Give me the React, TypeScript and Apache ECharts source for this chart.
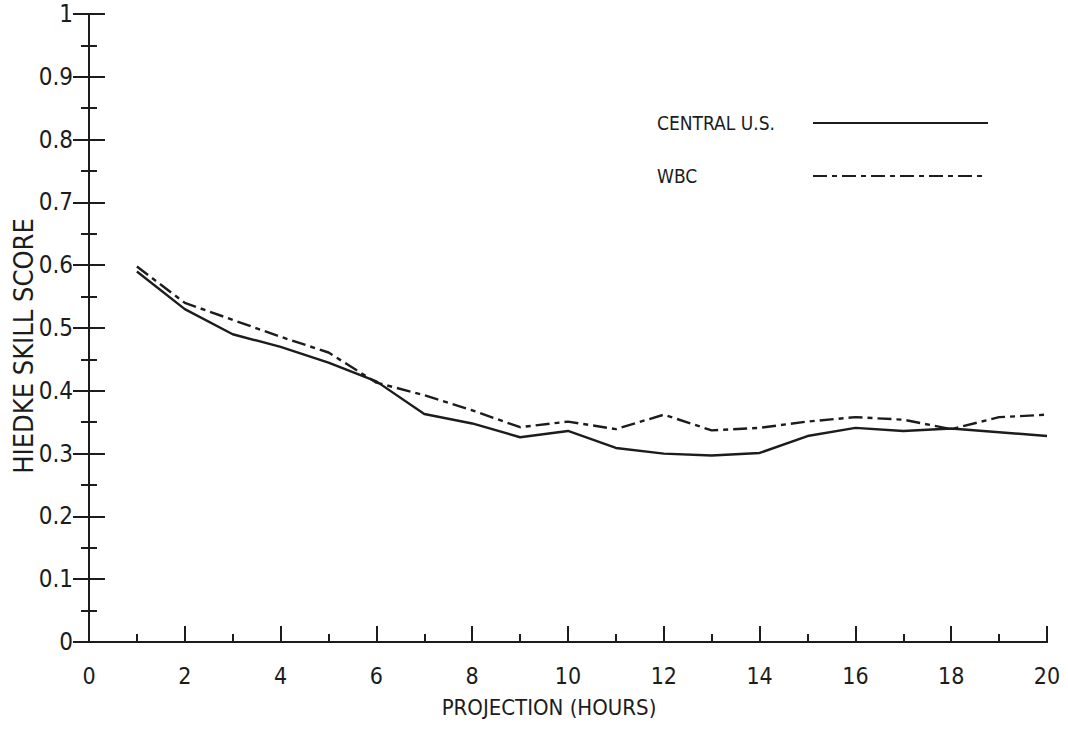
import React, { useEffect, useRef } from "react";
import * as echarts from "echarts";

// Projection hours (x) and Heidke skill scores for the two forecast sets
const hours = [1, 2, 3, 4, 5, 6, 7, 8, 9, 10, 11, 12, 13, 14, 15, 16, 17, 18, 19, 20];
const centralUS = [0.59, 0.53, 0.49, 0.47, 0.445, 0.415, 0.363, 0.348, 0.326, 0.336, 0.309, 0.3, 0.297, 0.301, 0.328, 0.341, 0.336, 0.34, 0.334, 0.328];
const wbc = [0.598, 0.54, 0.513, 0.486, 0.461, 0.413, 0.393, 0.369, 0.342, 0.351, 0.339, 0.362, 0.337, 0.341, 0.351, 0.358, 0.354, 0.339, 0.358, 0.362];

const seriesNames = ["CENTRAL U.S.", "WBC"];
const xTitle = "PROJECTION (HOURS)";
const yTitle = "HIEDKE SKILL SCORE";
const ink = "#1c1c1c";
const font = "'Liberation Sans Narrow', 'DejaVu Sans Condensed', 'Roboto', sans-serif";
const dashDot = [14, 5, 5, 5];

export default function App() {
  const ref = useRef<HTMLDivElement>(null);

  useEffect(() => {
    if (!ref.current) return;
    const chart = echarts.init(ref.current, undefined, { renderer: "svg" });

    const tickStyle = { color: ink, width: 2 };
    const majorTick = { show: true, inside: true, length: 16, lineStyle: tickStyle };
    const minorTick = { show: true, splitNumber: 2, length: 8, lineStyle: tickStyle };

    chart.setOption({
      animation: false,
      backgroundColor: "#ffffff",
      grid: {
        left: 89,
        right: 21,
        top: 14,
        bottom: 96,
        outerBoundsMode: "none",
        containLabel: false,
      },
      xAxis: [
        {
          type: "value",
          min: 0,
          max: 20,
          interval: 2,
          position: "bottom",
          axisLine: { show: true, lineStyle: { color: ink, width: 2 } },
          axisTick: majorTick,
          minorTick,
          axisLabel: { color: ink, fontSize: 23, fontFamily: font, margin: 22 },
          splitLine: { show: false },
          minorSplitLine: { show: false },
        },
        {
          type: "value",
          min: 0,
          max: 20,
          position: "top",
          axisLine: { show: true, lineStyle: { color: ink, width: 2 } },
          axisTick: { show: false },
          axisLabel: { show: false },
          splitLine: { show: false },
        },
      ],
      yAxis: [
        {
          type: "value",
          min: 0,
          max: 1,
          interval: 0.1,
          position: "left",
          axisLine: { show: true, lineStyle: { color: ink, width: 2 } },
          axisTick: majorTick,
          minorTick,
          axisLabel: {
            color: ink,
            fontSize: 24,
            fontFamily: font,
            margin: 16,
            formatter: (v: number) => (v === 0 ? "0" : v === 1 ? "1" : v.toFixed(1)),
          },
          splitLine: { show: false },
          minorSplitLine: { show: false },
        },
        {
          type: "value",
          min: 0,
          max: 1,
          interval: 0.1,
          position: "right",
          axisLine: { show: true, lineStyle: { color: ink, width: 2 } },
          axisTick: majorTick,
          minorTick,
          axisLabel: { show: false },
          splitLine: { show: false },
          minorSplitLine: { show: false },
        },
      ],
      series: [
        {
          name: seriesNames[0],
          type: "line",
          data: hours.map((h, i) => [h, centralUS[i]]),
          showSymbol: false,
          lineStyle: { color: ink, width: 2.4, type: "solid" },
          silent: true,
        },
        {
          name: seriesNames[1],
          type: "line",
          data: hours.map((h, i) => [h, wbc[i]]),
          showSymbol: false,
          lineStyle: { color: ink, width: 2.4, type: dashDot },
          silent: true,
        },
      ],
      graphic: [
        // axis titles
        {
          type: "text",
          x: 23,
          y: 346,
          rotation: Math.PI / 2,
          style: {
            text: yTitle,
            fill: ink,
            font: `27px ${font}`,
            align: "center",
            verticalAlign: "middle",
          },
        },
        {
          type: "text",
          x: 549,
          y: 707,
          style: {
            text: xTitle,
            fill: ink,
            font: `22px ${font}`,
            align: "center",
            verticalAlign: "middle",
          },
        },
        // legend
        {
          type: "text",
          x: 657,
          y: 123,
          style: { text: seriesNames[0], fill: ink, font: `19px ${font}`, verticalAlign: "middle" },
        },
        {
          type: "line",
          shape: { x1: 813, y1: 123, x2: 988, y2: 123 },
          style: { stroke: ink, lineWidth: 2 },
        },
        {
          type: "text",
          x: 657,
          y: 176,
          style: { text: seriesNames[1], fill: ink, font: `19px ${font}`, verticalAlign: "middle" },
        },
        {
          type: "line",
          shape: { x1: 813, y1: 176, x2: 986, y2: 176 },
          style: { stroke: ink, lineWidth: 2, lineDash: dashDot },
        },
      ],
    });

    return () => chart.dispose();
  }, []);

  return <div ref={ref} style={{ width: 1068, height: 738, position: "absolute", left: 0, top: 0 }} />;
}
